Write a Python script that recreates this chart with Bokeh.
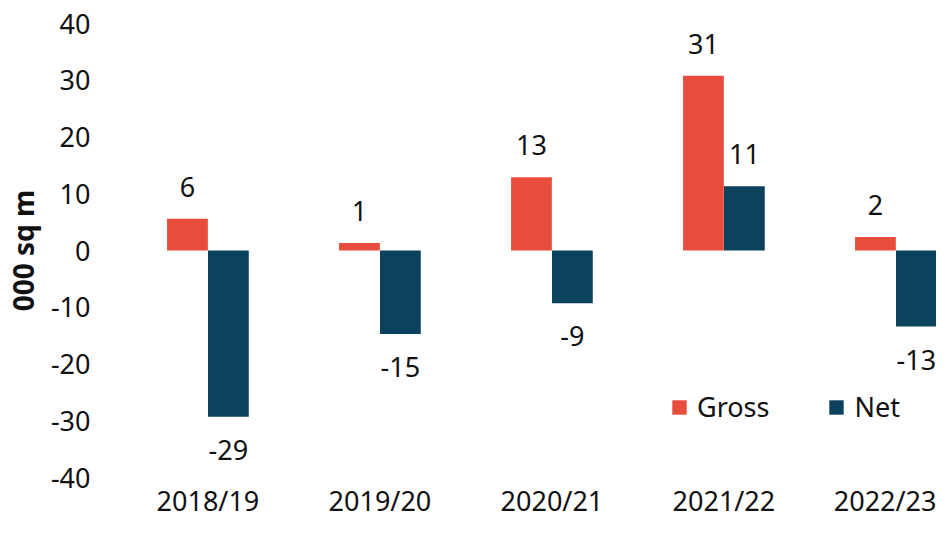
from bokeh.plotting import figure
from bokeh.models import Range1d, FixedTicker, ColumnDataSource
from bokeh.core.properties import value
from bokeh.embed import file_html
from bokeh.resources import INLINE

# ---- data ----
years = ["2018/19", "2019/20", "2020/21", "2021/22", "2022/23"]
gross = [5.6, 1.3, 12.9, 30.8, 2.4]
net = [-29.3, -14.7, -9.3, 11.3, -13.4]
y_ticks = [-40, -30, -20, -10, 0, 10, 20, 30, 40]

GROSS_C = "#E84C3C"
NET_C = "#0C425E"
FONT = "Noto Sans"
TXT = "#111111"

idx = list(range(len(years)))
off = 0.119
bw = 0.237

def label_offsets(vals):
    return [-32 if v >= 0 else 33 for v in vals]

src_g = ColumnDataSource(dict(
    x=[i - off for i in idx], top=gross,
    lab=[f"{v:.0f}" for v in gross], yo=label_offsets(gross)))
src_n = ColumnDataSource(dict(
    x=[i + off for i in idx], top=net,
    lab=[f"{v:.0f}" for v in net], yo=label_offsets(net)))

p = figure(width=936, height=521, output_backend="svg", toolbar_location=None,
           x_range=Range1d(-0.549, 4.236), y_range=Range1d(-40, 40),
           min_border_top=23, min_border_bottom=0, min_border_right=0,
           min_border_left=112)

p.vbar(x="x", top="top", bottom=0, width=bw, source=src_g, color=GROSS_C,
       line_color=None, legend_label="Gross")
p.vbar(x="x", top="top", bottom=0, width=bw, source=src_n, color=NET_C,
       line_color=None, legend_label="Net")

for s in (src_g, src_n):
    p.text(x="x", y="top", text="lab", y_offset="yo", source=s,
           text_align="center", text_baseline="alphabetic",
           text_font=value(FONT), text_font_size="27px", text_color=TXT)

p.outline_line_color = None
p.xgrid.grid_line_color = None
p.ygrid.grid_line_color = None
p.background_fill_color = "white"
p.border_fill_color = "white"

xa = p.xaxis[0]
xa.ticker = FixedTicker(ticks=idx)
xa.major_label_overrides = {i: y for i, y in zip(idx, years)}
xa.axis_line_color = None
xa.major_tick_line_color = None
xa.minor_tick_line_color = None
xa.major_tick_out = 0
xa.major_tick_in = 0
xa.major_label_standoff = 4
xa.major_label_text_font = FONT
xa.major_label_text_font_size = "27px"
xa.major_label_text_color = TXT

ya = p.yaxis[0]
ya.ticker = FixedTicker(ticks=y_ticks)
ya.major_label_overrides = {t: str(t) for t in y_ticks}
ya.axis_line_color = None
ya.major_tick_line_color = None
ya.minor_tick_line_color = None
ya.major_tick_out = 0
ya.major_tick_in = 0
ya.major_label_standoff = 23
ya.major_label_text_font = FONT
ya.major_label_text_font_size = "27px"
ya.major_label_text_color = TXT
ya.axis_label = "000 sq m"
ya.axis_label_text_font = FONT
ya.axis_label_text_font_size = "28px"
ya.axis_label_text_font_style = "bold"
ya.axis_label_text_color = TXT
ya.axis_label_standoff = 6

lg = p.legend[0]
lg.orientation = "horizontal"
lg.location = (557, 52)
lg.border_line_color = None
lg.background_fill_alpha = 0
lg.padding = 0
lg.margin = 0
lg.spacing = 58
lg.glyph_width = 18
lg.glyph_height = 18
lg.label_standoff = 9
lg.label_text_font = FONT
lg.label_text_font_size = "27px"
lg.label_text_color = TXT
lg.label_height = 18

open("out.html", "w").write(file_html(p, INLINE))
